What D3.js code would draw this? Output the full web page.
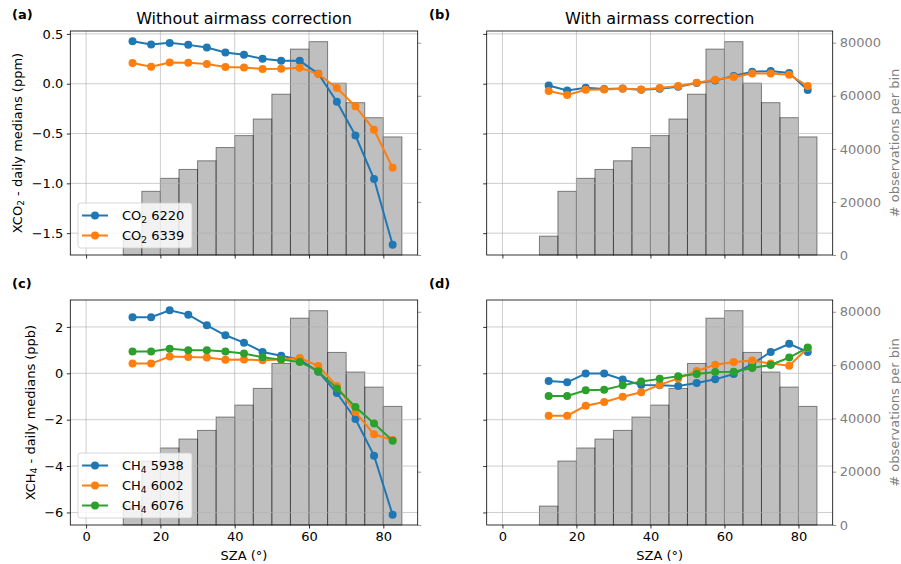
<!DOCTYPE html>
<html><head><meta charset="utf-8">
<script src="https://cdn.jsdelivr.net/npm/d3@7"></script>
<style>body{margin:0;background:#fff} text{font-family:"DejaVu Sans",sans-serif}</style>
</head><body><svg id="c" width="901" height="564"></svg>
<script>
// ---- data ----
const sza = [12.5,17.5,22.5,27.5,32.5,37.5,42.5,47.5,52.5,57.5,62.5,67.5,72.5,77.5,82.5];
const binEdges = [0,5,10,15,20,25,30,35,40,45,50,55,60,65,70,75,80,85];
const counts = [0,0,7100,24000,28900,32250,35500,40500,45000,51250,60600,77600,80400,64750,57400,51750,44500];

const co2_6220_raw = [0.427,0.393,0.41,0.39,0.363,0.313,0.29,0.25,0.23,0.23,0.10,-0.18,-0.52,-0.957,-1.617];
const co2_6339_raw = [0.207,0.17,0.213,0.21,0.197,0.167,0.163,0.147,0.15,0.16,0.097,-0.043,-0.227,-0.463,-0.843];
const co2_6220_cor = [-0.017,-0.067,-0.04,-0.053,-0.047,-0.06,-0.05,-0.03,0.007,0.033,0.077,0.12,0.127,0.107,-0.063];
const co2_6339_cor = [-0.073,-0.113,-0.06,-0.057,-0.05,-0.057,-0.043,-0.023,0.01,0.04,0.067,0.103,0.103,0.09,-0.023];

const ch4_5938_raw = [2.42,2.42,2.72,2.53,2.07,1.64,1.32,0.92,0.76,0.59,0.07,-0.85,-1.97,-3.55,-6.10];
const ch4_6002_raw = [0.42,0.42,0.72,0.70,0.68,0.58,0.59,0.56,0.60,0.66,0.32,-0.55,-1.67,-2.63,-2.88];
const ch4_6076_raw = [0.94,0.94,1.06,0.99,0.99,0.94,0.85,0.69,0.59,0.49,0.09,-0.65,-1.45,-2.16,-2.91];
const ch4_5938_cor = [-0.33,-0.39,-0.01,-0.01,-0.27,-0.50,-0.52,-0.55,-0.42,-0.26,-0.03,0.40,0.92,1.27,0.92];
const ch4_6002_cor = [-1.83,-1.83,-1.40,-1.24,-1.01,-0.82,-0.50,-0.22,0.10,0.37,0.49,0.55,0.42,0.33,1.09];
const ch4_6076_cor = [-0.98,-0.98,-0.73,-0.71,-0.52,-0.35,-0.24,-0.13,-0.03,0.06,0.07,0.23,0.36,0.68,1.11];

const co2Names = [["CO","2"," 6220"],["CO","2"," 6339"]];
const ch4Names = [["CH","4"," 5938"],["CH","4"," 6002"],["CH","4"," 6076"]];
const colors = ["#1f77b4","#ff7f0e","#2ca02c"];
const xTicks = [0,20,40,60,80];
const co2Ticks = [-1.5,-1.0,-0.5,0.0,0.5];
const ch4Ticks = [-6,-4,-2,0,2];
const countTicks = [0,20000,40000,60000,80000];
const titles = ["Without airmass correction","With airmass correction"];
const letters = ["(a)","(b)","(c)","(d)"];

// ---- layout ----
const svg = d3.select("#c");
const L = {l:70.3, r:417.7}, R = {l:486.7, r:832.7};
const T = {t:31, b:255}, B = {t:300, b:525};
const FS = 13;

const xDom = [-4.25, 89.25];
function padExt(arrs){
  const all = arrs.flat(); const mn = d3.min(all), mx = d3.max(all); const m = (mx-mn)*0.05;
  return [mn-m, mx+m];
}
const co2Dom = padExt([co2_6220_raw,co2_6339_raw,co2_6220_cor,co2_6339_cor]);
const ch4Dom = padExt([ch4_5938_raw,ch4_6002_raw,ch4_6076_raw,ch4_5938_cor,ch4_6002_cor,ch4_6076_cor]);
const cntDom = [0, d3.max(counts)*1.05];

const panels = [
  {h:L, v:T, yDom:co2Dom, yTicks:co2Ticks, fmt:d3.format(".1f"), series:[co2_6220_raw,co2_6339_raw], names:co2Names, leftLab:true, rightLab:false, xLab:false, legend:true, letter:letters[0], title:titles[0], ylabel:["XCO","2"," - daily medians (ppm)"], ylx:17},
  {h:R, v:T, yDom:co2Dom, yTicks:co2Ticks, fmt:d3.format(".1f"), series:[co2_6220_cor,co2_6339_cor], names:co2Names, leftLab:false, rightLab:true, xLab:false, legend:false, letter:letters[1], title:titles[1]},
  {h:L, v:B, yDom:ch4Dom, yTicks:ch4Ticks, fmt:d3.format("d"), series:[ch4_5938_raw,ch4_6002_raw,ch4_6076_raw], names:ch4Names, leftLab:true, rightLab:false, xLab:true, legend:true, letter:letters[2], ylabel:["XCH","4"," - daily medians (ppb)"], ylx:30},
  {h:R, v:B, yDom:ch4Dom, yTicks:ch4Ticks, fmt:d3.format("d"), series:[ch4_5938_cor,ch4_6002_cor,ch4_6076_cor], names:ch4Names, leftLab:false, rightLab:true, xLab:true, legend:false, letter:letters[3]}
];

function subText(sel, parts, size){
  sel.append("tspan").text(parts[0]);
  sel.append("tspan").attr("font-size", size*0.7).attr("dy", size*0.22).text(parts[1]);
  sel.append("tspan").attr("dy", -size*0.22).text(parts[2]);
}

panels.forEach(p => {
  const x = d3.scaleLinear().domain(xDom).range([p.h.l, p.h.r]);
  const y = d3.scaleLinear().domain(p.yDom).range([p.v.b, p.v.t]);
  const yc = d3.scaleLinear().domain(cntDom).range([p.v.b, p.v.t]);
  const g = svg.append("g");

  // histogram bars (twin axis)
  g.append("g").selectAll("rect").data(counts).join("rect")
    .attr("x", (d,i)=>x(binEdges[i])).attr("width",(d,i)=>x(binEdges[i+1])-x(binEdges[i]))
    .attr("y", d=>yc(d)).attr("height", d=>yc(0)-yc(d))
    .attr("fill","#808080").attr("fill-opacity",0.5)
    .attr("stroke","#000").attr("stroke-opacity",0.45).attr("stroke-width",1);

  // grid
  const grid = g.append("g").attr("stroke","#b0b0b0").attr("stroke-width",0.8).attr("stroke-opacity",0.8);
  xTicks.forEach(t => grid.append("line").attr("x1",x(t)).attr("x2",x(t)).attr("y1",p.v.t).attr("y2",p.v.b));
  p.yTicks.forEach(t => grid.append("line").attr("x1",p.h.l).attr("x2",p.h.r).attr("y1",y(t)).attr("y2",y(t)));

  // axes
  const ax = d3.axisBottom(x).tickValues(xTicks).tickSize(3.5).tickPadding(3.5).tickFormat(p.xLab? d3.format("d") : ()=>"");
  const gx = g.append("g").attr("transform",`translate(0,${p.v.b})`).call(ax);
  const ay = d3.axisLeft(y).tickValues(p.yTicks).tickSize(3.5).tickPadding(3.5).tickFormat(p.leftLab? p.fmt : ()=>"");
  const gy = g.append("g").attr("transform",`translate(${p.h.l},0)`).call(ay);
  const ar = d3.axisRight(yc).tickValues(countTicks).tickSize(3.5).tickPadding(3.5).tickFormat(p.rightLab? d3.format("d") : ()=>"");
  const gr = g.append("g").attr("transform",`translate(${p.h.r},0)`).call(ar);
  [gx,gy,gr].forEach(a=>{ a.select(".domain").remove(); a.selectAll("text").attr("font-size",FS).attr("font-family","DejaVu Sans"); a.selectAll("line").attr("stroke-width",0.8);});
  gr.selectAll("line").attr("stroke","#808080");
  gr.selectAll("text").attr("fill","#808080");
  gx.selectAll("text").attr("dy","0.71em");

  // lines
  p.series.forEach((s,k)=>{
    const lg = g.append("g");
    lg.append("path").datum(s).attr("fill","none").attr("stroke",colors[k]).attr("stroke-width",2)
      .attr("d", d3.line().x((d,i)=>x(sza[i])).y(d=>y(d)));
    lg.selectAll("circle").data(s).join("circle").attr("cx",(d,i)=>x(sza[i])).attr("cy",d=>y(d)).attr("r",4).attr("fill",colors[k]);
  });

  // spines
  g.append("rect").attr("x",p.h.l).attr("y",p.v.t).attr("width",p.h.r-p.h.l).attr("height",p.v.b-p.v.t)
    .attr("fill","none").attr("stroke","#000").attr("stroke-width",0.8);

  // legend
  if (p.legend){
    const n = p.names.length, lx = 78, lw = 114, rowH = 20;
    const ly = p.v.b - 7 - (n*rowH + 5);
    const lgd = g.append("g");
    lgd.append("rect").attr("x",lx).attr("y",ly).attr("width",lw).attr("height",n*rowH+5).attr("rx",2.5)
      .attr("fill","#fff").attr("fill-opacity",0.8).attr("stroke","#cccccc").attr("stroke-width",0.8);
    p.names.forEach((nm,k)=>{
      const cy = ly + 12.5 + k*rowH;
      lgd.append("line").attr("x1",lx+4).attr("x2",lx+30).attr("y1",cy).attr("y2",cy).attr("stroke",colors[k]).attr("stroke-width",2);
      lgd.append("circle").attr("cx",lx+17).attr("cy",cy).attr("r",4).attr("fill",colors[k]);
      const t = lgd.append("text").attr("x",lx+44).attr("y",cy+4.6).attr("font-size",FS);
      subText(t, nm, FS);
    });
  }

  // labels
  svg.append("text").attr("x", p.h.l < 100 ? 12 : 429).attr("y", p.v.t-12).attr("font-size",FS).attr("font-weight","bold").text(p.letter);
  if (p.title) svg.append("text").attr("x",(p.h.l+p.h.r)/2).attr("y",p.v.t-7).attr("text-anchor","middle").attr("font-size",16).text(p.title);
  if (p.xLab) svg.append("text").attr("x",(p.h.l+p.h.r)/2).attr("y",p.v.b+35).attr("text-anchor","middle").attr("font-size",FS).text("SZA (°)");
  if (p.ylabel){
    const t = svg.append("text").attr("transform",`translate(${p.ylx},${(p.v.t+p.v.b)/2}) rotate(-90)`).attr("text-anchor","middle").attr("font-size",FS).attr("dy","0.35em");
    subText(t, p.ylabel, FS);
  }
  if (p.rightLab){
    svg.append("text").attr("transform",`translate(894,${(p.v.t+p.v.b)/2}) rotate(-90)`).attr("text-anchor","middle").attr("font-size",FS).attr("dy","0.35em").attr("fill","#808080").text("# observations per bin");
  }
});
</script></body></html>
